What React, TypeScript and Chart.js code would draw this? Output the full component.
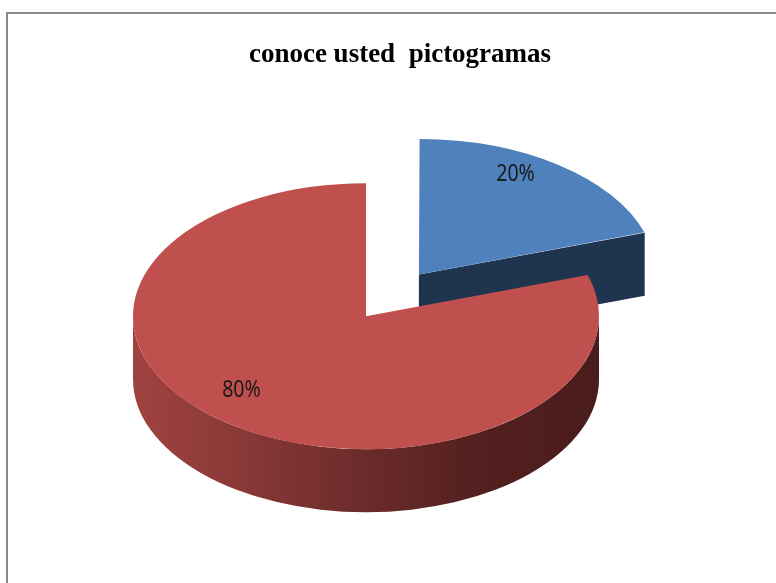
import React, { useEffect, useRef } from 'react';
import { Chart, registerables, layouts } from 'chart.js';

Chart.register(...registerables);

// ---- data ----
const categories = ['Sí', 'No'];
const values = [20, 80];
const titleText = 'conoce usted  pictogramas';

// ---- styles ----
const topColors = ['#4F81BD', '#C0504D'];
const sideStops = [
  ['#1F344F', '#1F344F'],
  ['#A04340', '#873836', '#6A2B2A', '#531F1F', '#4A1C1C'],
];
const explode = [360, 0]; // chart.js arc offset (drawn as offset/4)

function geom(arc: any) {
  const off = (arc.options.offset || 0) / 4;
  const mid = (arc.startAngle + arc.endAngle) / 2;
  const ox = arc.x + Math.cos(mid) * off;
  const oy = arc.y + Math.sin(mid) * off;
  const fix = 1 - Math.sin(Math.min(Math.PI, arc.endAngle - arc.startAngle));
  const r = arc.outerRadius + off * fix;
  return { ox, oy, r, mid, start: arc.startAngle, end: arc.endAngle };
}

const spacer = {
  id: 'spacer',
  beforeInit(chart: any) {
    const box: any = {
      position: 'right',
      fullSize: false,
      weight: 0,
      options: {},
      width: 0,
      height: 0,
      left: 0,
      right: 0,
      top: 0,
      bottom: 0,
      isHorizontal() {
        return false;
      },
      update(_maxWidth: number, maxHeight: number) {
        box.width = 68;
        box.height = maxHeight;
      },
      draw() {},
    };
    layouts.addBox(chart, box);
  },
};

const frame = {
  id: 'frame',
  beforeDraw(chart: any) {
    const ctx = chart.ctx;
    ctx.save();
    ctx.strokeStyle = '#888888';
    ctx.lineWidth = 2;
    ctx.beginPath();
    ctx.moveTo(7, chart.height + 5);
    ctx.lineTo(7, 13);
    ctx.lineTo(chart.width + 5, 13);
    ctx.stroke();
    ctx.restore();
  },
};

const pie3d = {
  id: 'pie3d',
  beforeDatasetsDraw(chart: any, _a: any, opts: any) {
    const ctx = chart.ctx;
    ctx.save();
    const arcs = chart.getDatasetMeta(0).data as any[];
    if (!arcs.length) return;
    const cy = arcs[0].y;
    const s = opts.squash;
    const d = opts.depth / s;
    ctx.translate(0, cy);
    ctx.scale(1, s);
    ctx.translate(0, -cy);
    arcs.forEach((arc, i) => {
      const g = geom(arc);
      const stops = sideStops[i % sideStops.length];
      const grad = ctx.createLinearGradient(g.ox - g.r, 0, g.ox + g.r, 0);
      stops.forEach((c, k) => grad.addColorStop(k / (stops.length - 1), c));
      ctx.fillStyle = grad;
      // radial faces of exploded slices
      [
        { a: g.end, vis: Math.cos(g.end) > 0.01 },
        { a: g.start, vis: Math.cos(g.start) < -0.01 },
      ].forEach(({ a, vis }) => {
        if (!vis || !arc.options.offset) return;
        const px = g.ox + Math.cos(a) * g.r;
        const py = g.oy + Math.sin(a) * g.r;
        ctx.beginPath();
        ctx.moveTo(g.ox, g.oy);
        ctx.lineTo(px, py);
        ctx.lineTo(px, py + d);
        ctx.lineTo(g.ox, g.oy + d);
        ctx.closePath();
        ctx.fill();
      });
      // outer wall (front half only)
      for (let k = -1; k <= 1; k++) {
        const lo = Math.max(g.start, 2 * Math.PI * k);
        const hi = Math.min(g.end, 2 * Math.PI * k + Math.PI);
        if (hi > lo) {
          ctx.beginPath();
          ctx.arc(g.ox, g.oy, g.r, lo, hi);
          ctx.arc(g.ox, g.oy + d, g.r, hi, lo, true);
          ctx.closePath();
          ctx.fill();
        }
      }
    });
  },
  afterDatasetsDraw(chart: any, _a: any, opts: any) {
    const ctx = chart.ctx;
    ctx.restore();
    const arcs = chart.getDatasetMeta(0).data as any[];
    if (!arcs.length) return;
    const cy = arcs[0].y;
    const s = opts.squash;
    const data = chart.data.datasets[0].data as number[];
    const total = data.reduce((a, b) => a + b, 0);
    arcs.forEach((arc, i) => {
      const g = geom(arc);
      const px = g.ox + Math.cos(g.mid) * g.r * opts.labelPos + opts.labelDx;
      const py = g.oy + Math.sin(g.mid) * g.r * opts.labelPos;
      const sy = cy + (py - cy) * s + opts.labelDy;
      ctx.save();
      ctx.fillStyle = '#1a1a1a';
      ctx.font = "23px 'Noto Sans', sans-serif";
      ctx.textAlign = 'center';
      ctx.textBaseline = 'middle';
      ctx.translate(px, sy);
      ctx.scale(0.85, 1);
      ctx.fillText(Math.round((data[i] / total) * 100) + '%', 0, 0);
      ctx.restore();
    });
  },
};

export default function App() {
  const ref = useRef<HTMLCanvasElement>(null);
  useEffect(() => {
    const chart = new Chart(ref.current as HTMLCanvasElement, {
      type: 'pie',
      data: {
        labels: categories,
        datasets: [
          {
            data: values,
            backgroundColor: topColors,
            borderWidth: 0,
            offset: explode,
            hoverOffset: 0,
            radius: 233,
            clip: false,
          } as any,
        ],
      },
      options: {
        responsive: false,
        animation: false,
        events: [],
        rotation: 0,
        layout: { padding: { left: 24, right: 0, top: 22, bottom: 30 } },
        plugins: {
          legend: { display: false },
          tooltip: { enabled: false },
          title: {
            display: true,
            text: titleText,
            color: '#000000',
            font: { family: "'Liberation Serif', 'Times New Roman', serif", size: 27, weight: 'bold' },
            padding: { top: 17, bottom: 8 },
          },
          pie3d: { squash: 0.571, depth: 63, labelPos: 0.8, labelDx: -15, labelDy: -12 },
        } as any,
      },
      plugins: [spacer, frame, pie3d],
    });
    return () => chart.destroy();
  }, []);
  return (
    <div style={{ position: 'fixed', left: 0, top: 0, width: 776, height: 583, background: '#fff' }}>
      <canvas ref={ref} width={776} height={583} style={{ display: 'block' }} />
    </div>
  );
}
